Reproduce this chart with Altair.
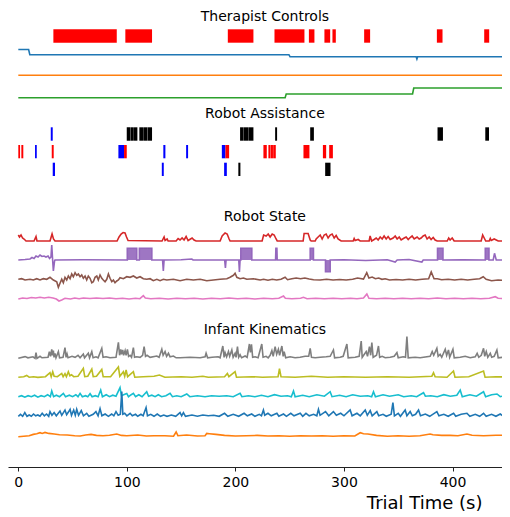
import altair as alt
import pandas as pd

X_DOMAIN = [-9.5, 445.6]
TICKS = [0, 100, 200, 300, 400]
RED, BLUE, BLACK = "#ff0000", "#0000ff", "#000000"

# ---------- section titles: (label, time-centre, level) ----------
SECTION_TITLES = [("Therapist Controls", 227.2, 21.0), ("Robot Assistance", 227.2, 118.3),
                  ("Robot State", 227.2, 220.7), ("Infant Kinematics", 227.2, 334.3)]

# ---------- event bars (start s, end s, colour) ----------
THERAPIST_EVENTS = [(32.3, 90.7), (98.6, 123.2), (193.0, 216.6), (236.0, 263.6), (267.7, 272.8),
                    (282.0, 287.3), (289.4, 292.5), (318.6, 324.1), (385.6, 390.8), (429.2, 433.8)]
ASSIST_A = [(29.9, 31.7, BLUE), (99.9, 103.1, BLACK), (103.3, 106.4, BLACK), (106.6, 109.7, BLACK),
            (111.5, 114.9, BLACK), (115.1, 118.9, BLACK), (119.1, 123.2, BLACK), (204.3, 207.6, BLACK),
            (207.8, 211.7, BLACK), (211.9, 216.6, BLACK), (236.6, 238.4, BLACK), (268.9, 272.3, BLACK),
            (386.2, 391.2, BLACK), (430.2, 433.6, BLACK)]
ASSIST_B = [(0.0, 1.6, RED), (2.8, 4.6, RED), (15.4, 17.0, BLUE), (30.8, 32.6, RED), (92.2, 97.4, BLUE),
            (97.4, 99.9, RED), (133.6, 135.5, BLUE), (154.6, 156.4, BLUE), (187.5, 190.8, BLUE),
            (190.8, 194.2, RED), (225.8, 228.9, RED), (230.4, 232.2, RED), (232.4, 234.6, RED),
            (234.8, 237.2, RED), (262.7, 268.2, RED), (280.6, 283.6, RED), (286.4, 289.8, RED)]
ASSIST_C = [(31.7, 33.8, BLUE), (132.2, 134.0, BLUE), (189.6, 192.1, BLUE), (202.7, 204.6, BLACK),
            (282.7, 287.6, BLACK)]
# vertical bands of the event rows (levels)
BAND_THER = (29.3, 42.7)
BAND_A = (127.3, 140.7)
BAND_B = (145.0, 158.3)
BAND_C = (162.7, 176.0)

# ---------- therapist control traces (time, value) ----------
THER_BLUE = [(0, 5.2), (9.5, 5.2), (10.6, 0), (249.3, 0), (250.3, -2), (366.5, -2), (367.2, -4.3),
             (367.9, -2), (453, -2)]
THER_ORANGE = [(0, 0), (453, 0)]
THER_GREEN = [(0, 0), (245.8, 0), (246.8, 3.7), (363.2, 3.7), (364.3, 9.7), (453, 9.7)]

# ---------- robot state traces ----------
STATE_RED = [(0, 6), (1.1, 4), (2.5, 6), (3.9, 3), (5.3, 2), (7.1, 0), (14.5, 0), (16.3, 4.5), (17.2, 0),
             (29.2, 0), (31.1, 7), (32.4, 2), (33.8, 0), (91, 0), (92.8, 4), (94.7, 7), (96.5, 8.5),
             (98.3, 8), (99.7, 4), (101.1, 0.5), (132.4, 0), (134.3, 4), (135.2, 0.5), (137.1, 2),
             (138, 0), (145.4, 0), (147.2, 2.5), (149, 1), (150.9, 3), (152.7, 1), (154.6, 4.5),
             (156.4, 0.5), (160.1, 3), (161.9, 1), (163.8, 0), (185.9, 0), (187.8, 5), (190.5, 8),
             (192.4, 7), (194.2, 2), (195.1, 0), (224.6, 0), (226, 6), (228.3, 5), (230.2, 7), (232, 4),
             (233.9, 7), (235.7, 6), (237.5, 2), (238.5, 0), (262.4, 0), (263.3, 7.5), (267, 7.5),
             (268.9, 1), (269.8, 0), (273.5, 0), (274.4, 2), (276.2, 4), (278.1, 6), (279.9, 2),
             (281.8, 6), (283.6, 7), (285.4, 3), (287.3, 6), (289.1, 7), (291, 3), (292.8, 5.5),
             (294.6, 2), (297.4, 0), (308.5, 0), (309.4, 2.5), (310.3, 0.5), (313.1, 1.5), (314.9, 0),
             (323.2, 0), (324.1, 5), (325.5, 0), (327.8, 1.5), (329.7, 3), (331.5, 1), (333.4, 4),
             (335.2, 2), (337, 5), (338.9, 2), (340.7, 4.5), (342.6, 1.5), (345.3, 3), (347.2, 5),
             (349, 2), (350.9, 4), (352.7, 1), (355.5, 3), (357.3, 4), (359.2, 1.5), (361, 3.5),
             (362.8, 5), (364.7, 2), (367.4, 4), (369.3, 2), (371.1, 3), (373, 5), (374.8, 6),
             (376.6, 2), (378.5, 4), (380.3, 1.5), (382.2, 3.5), (384, 1), (385.9, 0), (395.1, 0),
             (396.5, 3), (397.8, 1), (399.7, 3), (401.5, 0), (426.4, 0), (427.8, 6), (429.2, 3),
             (430.6, 0), (433.8, 0), (434.8, 2.5), (435.7, 0.5), (438.4, 2), (440.3, 1), (442.1, 0),
             (453, 0)]
STATE_PURPLE = [(0, 0), (6.2, 0.5), (10.8, 1), (12.6, 2.5), (14.5, 1.5), (16.3, 4), (18.2, 3), (20, 5),
                (21.8, 3.5), (23.7, 4), (25.5, 3), (27.4, 4), (28.8, 1.5), (30.1, 3), (30.8, 15), (31.5, 2),
                (32.3, -11), (33.4, -1), (33.8, 0), (60, 0.3), (100.4, 0), (100.4, 11.7), (109.1, 11.7),
                (109.1, 0), (111.5, 0), (111.5, 11.7), (123, 11.7), (123, 0), (132.9, 0), (133.6, -11),
                (134.3, 0), (150, 0.3), (159.8, 1), (161, 0), (190.1, 0), (190.8, -8), (191.4, 0),
                (203.1, 0), (203.7, -12), (204.3, 0), (205, 0), (205, 11.7), (215.1, 11.7), (215.1, 0),
                (237, 0), (237.3, 11.7), (238.2, 11.7), (238.5, 0), (268.9, 0), (268.9, 11.7),
                (271.9, 11.7), (271.9, 0), (283, 0), (283, -11.7), (287.3, -11.7), (287.3, 0),
                (300, 0.3), (320, -0.5), (340, 0.3), (347.2, -2), (349, 0), (360, 0.5), (371.8, -2),
                (373, 0), (386.2, 0), (386.2, 11.7), (391.2, 11.7), (391.2, 0), (410, 0.3), (430.2, 0),
                (430.2, 11.7), (433.6, 11.7), (433.6, 0), (437.5, 0), (438.7, 6.7), (440.3, 0), (453, 0)]
PURPLE_BLOCKS = [(100.4, 109.1, 11.7), (111.5, 123.0, 11.7), (205.0, 215.1, 11.7), (237.0, 238.4, 11.7),
                 (268.9, 271.9, 11.7), (283.0, 287.3, -11.7), (386.2, 391.2, 11.7), (430.2, 433.6, 11.7)]
STATE_BROWN = [(0, 0.7), (3.1, 1.3), (6.2, 0), (10.8, 0.7), (13.8, 0), (17, 1.3), (20, 0), (23, 1.3),
               (26.2, 0.7), (29.2, 2.7), (32.3, 0), (35.4, -1.7), (36.9, -7.3), (38.4, -3.3), (40, 0.7),
               (41.5, -2.7), (43, 2.7), (44.6, 0), (46.1, 4), (47.7, 1.3), (49.2, 6), (50.7, 3.3),
               (52.3, 7.3), (53.8, 4.7), (55.3, 6), (56.9, 3.3), (58.4, 5), (59.9, 1.7), (61.5, 4),
               (63, 0), (64.5, 4), (66.1, 1.7), (67.7, -2.7), (69.1, -1.7), (70.7, 2.7), (72.3, 4),
               (73.7, 0), (75.3, 5), (76.9, 1.7), (78.3, 0), (79.9, -1.7), (81.5, 0.7), (83, 6),
               (84.5, 1.7), (86.1, -1.7), (87.6, 0), (89.1, -2.7), (90.7, -1), (92.2, 0), (93.7, 2.3),
               (96.8, 1.3), (99.9, 3.3), (103, 2.7), (106, 4), (109.1, 2), (112.2, 3.3), (115.2, 1.3),
               (118.3, 0.7), (121.4, 1.3), (124.4, -0.7), (127.6, 0.7), (130.6, -0.7), (133.6, 0.7),
               (136.8, 0), (142.9, 0.7), (149, -0.7), (155.2, 0.7), (161.3, 0), (167.5, 0.7),
               (173.6, -0.7), (179.7, 0), (185.9, 0.7), (192.1, 1.3), (195.1, 2.7), (198.2, 4.7),
               (199.7, 6.7), (201.3, 2.7), (204.3, 1.3), (207.4, 2), (210.5, 0.7), (216.6, 1.3),
               (222.8, 0), (226, 0.7), (230, -0.3), (234, 0.7), (238, 0), (242, 0.7), (245.8, 2.7),
               (248, 0.3), (252, 1.3), (256, 2), (260, 1.3), (264, 2), (268, 1), (272, 0.3), (278, 0),
               (284, 0.7), (290, 0), (296, 0.5), (302, 0), (308, 0.7), (312.5, 2), (318, 1), (321, 7.3),
               (323, 2), (326, 3), (329, 1.3), (332, 2), (335, 0.7), (338, 1.3), (342, 0), (348, 0.5),
               (354, 0), (360, 0.7), (366, 0), (372, 0.7), (378, 1.3), (380.4, 8), (383, 1.3),
               (386, 1.3), (390, 0.3), (396, 0.7), (402, 0), (408, 0.7), (414, 0), (420, 0.7),
               (425, 1.3), (428.3, 3.3), (431, 0.7), (436, -0.7), (442, 0), (448, -0.3), (453, 0)]
STATE_PINK = [(0, 0), (4, 1), (8, 0.5), (12, 1.5), (16, 1), (20, 1.7), (24, 1), (28, 1.7), (32, 1),
              (35, 0), (37.5, -2), (40, -1), (43, 0.7), (48, 0), (52, 1), (56, 0.3), (60, 1), (66, 0.5),
              (72, 1), (78, 0.5), (84, 1), (90, 0.3), (96, 0.7), (102, 0), (108, 0.7), (112, 0.3),
              (115.2, 3.3), (117, 1), (122, 0.3), (130, 0.7), (138, 0), (146, 0.7), (154, 0.3),
              (162, 0.7), (170, 0), (178, 0.7), (186, 0.3), (194, 1), (202, 0.3), (210, 0.7), (218, 0),
              (226, 0.7), (234, 0.3), (240, 0.7), (244.3, 3), (246, 0.7), (252, 0.3), (260, 0.7),
              (262.7, 1.7), (266, 0.3), (274, 0.7), (282, 0.3), (290, 0.7), (298, 0.3), (306, 0.7),
              (312, 0.3), (318, 1), (321.1, 5), (323, 0.7), (330, 0.3), (338, 0.7), (346, 0.3),
              (354, 0.7), (362, 0.3), (370, 0.7), (378, 0.3), (386, 1), (394, 0.3), (402, 0.7),
              (410, 0.3), (418, 0.7), (426, 0.3), (434, 0.7), (439.4, 2.3), (442, 0.7), (448, 0.3),
              (453, 0.5)]

# ---------- infant kinematics traces ----------
INF_GREY = [(0, 0), (6.2, 1.7), (8.9, 0.5), (13.5, 1.5), (15.4, 0), (16.3, 5.7), (17.2, 0), (20, 2),
            (21.8, 0.5), (27.4, 1), (28.6, 6.7), (29.7, 2), (30.8, 9), (31.5, 3), (32.3, 7.7), (32.9, 1),
            (33.8, 5), (34.7, 0.5), (36.9, 6.7), (38, 0.5), (41.2, 1), (43, 10.7), (44, 1), (44.9, 4.3),
            (45.8, 0.5), (49.5, 2), (52.3, 1), (55, 3), (56.9, 0.5), (59.9, 4.3), (61, 0.5), (64.5, 5),
            (65.6, 0.5), (67.7, 6.7), (68.9, 0.5), (71.6, 1.5), (73.5, 0.5), (76.9, 10), (78.1, 1),
            (80.8, 1.5), (84.5, 0.5), (90, 1), (92.2, 16), (93.3, 3), (94.4, 9), (95.1, 4), (96.2, 8.3),
            (97, 3), (98.4, 7.7), (99.3, 3), (100.5, 9), (101.6, 2), (103, 3), (104.3, 1), (106, 10.7),
            (107.1, 1), (109.1, 1.5), (112.2, 1), (114.5, 3), (115.9, 11.7), (117.2, 2), (118.6, 3),
            (121.4, 1), (127.6, 2.3), (129.7, 1), (132.2, 9), (133.4, 3), (135.2, 6.7), (136.6, 2),
            (138.3, 5), (139.8, 1.5), (142.9, 2.3), (145.4, 0.5), (149, 0.5), (158.2, 1), (167.5, 0.5),
            (172.1, 1.5), (173, 5), (174.4, 0.5), (178.5, 1), (184.1, 1.5), (185.9, 0.5), (188.4, 12.3),
            (189.6, 1), (190.5, 5.7), (191.9, 1.5), (193.6, 6.7), (194.7, 2), (196.7, 8.3), (197.9, 1),
            (199.7, 5), (200.6, 1), (201.9, 11.7), (203, 1), (204.3, 3.5), (205.7, 0.5), (209, 2.3),
            (210.8, 1), (212.9, 14.3), (213.8, 6), (214.8, 14), (215.9, 1), (218.2, 1.5), (220.9, 0.5),
            (224.3, 14.3), (225.5, 1), (228.3, 2), (230.2, 0.5), (232, 3), (233.6, 7.7), (234.8, 2),
            (236.6, 11.7), (238, 4), (239.6, 9), (240.7, 3), (242.8, 12.3), (244, 2), (244.9, 6.7),
            (246.3, 0.5), (250.4, 1.5), (255, 0.5), (259.6, 1), (264.2, 2), (267.5, 2), (268.9, 10),
            (270.1, 1), (273.5, 0.5), (278.1, 1), (283.6, 1.5), (287.3, 2), (290.3, 8.3), (291.4, 0.5),
            (296.5, 1), (299.3, 2), (302.7, 14.3), (303.9, 0.5), (310.3, 1), (314, 2), (315.9, 17.3),
            (316.8, 1), (320.5, 6.7), (321.7, 2), (323.5, 11.7), (324.6, 3), (325.7, 15.7), (326.9, 1),
            (330, 3), (331.8, 12.3), (332.9, 1), (335.2, 2), (338, 0.5), (342.6, 1), (346.3, 2),
            (348.8, 5.7), (350, 0.5), (354.6, 1.5), (356.7, 1), (358, 21.7), (359.2, 0.5), (365.6, 1),
            (370.2, 0.5), (379.4, 2), (381.3, 6.7), (382.7, 3), (385.6, 10), (386.8, 2), (388.6, 4),
            (390.1, 1), (393.3, 9), (394.6, 3), (396.3, 8.3), (397.4, 1), (400.4, 9), (401.6, 0.5),
            (407.1, 1), (411.7, 2), (416.3, 0.5), (420.9, 1.5), (422.7, 5), (424.2, 1), (426.5, 3),
            (428.6, 10), (429.7, 2), (431.1, 6.7), (432.5, 1), (434.8, 5), (436.1, 1), (438.4, 2),
            (440.9, 8.3), (442.1, 0.5), (446.7, 1), (450.4, 0.5), (453, 0.5)]
INF_OLIVE = [(0, 0.5), (5, 1), (7.7, 2.3), (10, 0.5), (14, 1), (18, 0.3), (25, 1), (29.2, 5), (30.3, 1),
             (31.7, 6), (33, 1.5), (36, 1), (40, 4.3), (41.3, 1), (43, 4), (44.3, 1), (46.1, 6), (47.5, 2),
             (49, 3), (51, 1), (55, 1.5), (59.9, 9.3), (61.2, 1), (64, 1.5), (67.7, 8.7), (69, 1),
             (72, 1.5), (76.9, 8.3), (78.2, 1), (85, 1), (92.2, 10.7), (93.5, 1.5), (96.8, 6), (98, 1.5),
             (99.3, 7.7), (100.7, 1), (106, 6), (107.3, 0.5), (115, 1), (125, 1.5), (130, 2.7),
             (135, 0.5), (150, 1), (160, 0.5), (170, 1.5), (175, 0.5), (190, 1), (192.6, 4.3), (194, 1),
             (199.7, 6), (201, 0.5), (215, 1), (225, 0.5), (239.3, 1), (240.6, 9), (242, 1), (255, 0.5),
             (270, 1.5), (285, 0.5), (300, 1), (320, 0.5), (340, 1), (360, 0.5), (381, 1.5), (382.5, 5),
             (384, 1), (395, 0.5), (400.9, 6.7), (402.3, 0.5), (415, 1), (428.6, 6.7), (430, 0.5),
             (440, 1), (453, 0.5)]
INF_CYAN = [(0, 1), (3, 2), (6, 0.5), (9, 2), (12, 1), (15, 2.5), (18, 0.5), (21, 2), (24, 1), (27, 3),
            (29.5, 1), (30.8, 6.7), (32.5, 1), (35, 2.5), (38, 1), (41.5, 4.3), (43.5, 1), (47, 2.5),
            (50, 1), (53, 3), (55, 1), (56.9, 4.3), (59, 1), (62, 2), (64, 1), (66.1, 4), (68, 1),
            (71, 2), (73.5, 1), (75.9, 7.7), (77.5, 1), (81, 3), (84, 1), (87, 2.5), (90, 1.5),
            (93.7, 10), (95, 2), (97, 3), (99.9, 4.3), (101.5, 1), (104, 3), (106, 4.3), (108, 1),
            (111, 3), (114, 1), (118.3, 6), (120, 1.5), (123, 2.5), (126, 1), (129, 3), (132, 1),
            (136, 2), (139.8, 4.3), (142, 1), (146, 2), (150, 1), (155.2, 3.7), (158, 1), (165, 2),
            (172, 1), (178, 2), (185, 1.5), (192, 2), (198, 1), (204.3, 4.3), (206, 1), (212, 2),
            (218, 1), (224, 2.5), (230, 1), (236, 3), (242, 1.5), (248, 2), (251.5, 1), (253.5, 6.7),
            (255, 1), (262, 2.5), (268, 1), (275, 3), (282, 1.5), (287.3, 6), (289, 1), (296, 2.5),
            (302, 1), (308, 3), (315, 1.5), (322, 2), (325.5, 1), (327.2, 6), (329, 1), (336, 3),
            (342, 1.5), (350, 3), (355, 1), (362, 2), (367, 1), (373.3, 5), (375, 1.5), (380, 2),
            (386, 1), (392, 3), (398, 1.5), (404, 2.5), (407.1, 7.7), (409, 1), (416, 3), (422, 1.5),
            (428.6, 6), (430.5, 1), (436, 3), (441, 3.7), (444, 1), (448, 2), (453, 1)]
INF_BLUE = [(0, 1), (2, 3), (4, 1), (6, 4.7), (8, 1), (10, 2.3), (12, 1), (14, 3.3), (16, 1.5), (18, 2.3),
            (20, 1), (22, 4), (24, 1.5), (26, 3.3), (28, 1), (29.2, 5.7), (31, 2), (33, 4.7), (35, 1.5),
            (38.4, 6.3), (40, 2), (43, 7.3), (44.5, 2.5), (46, 5), (47.7, 8), (49, 2), (51, 7.3),
            (52.5, 2), (53.8, 8), (55.5, 2), (58, 6.7), (60, 1.5), (63, 4), (65, 1), (69, 3), (71.5, 5.7),
            (73.5, 1.5), (75.3, 8.7), (77, 1.5), (80, 3.3), (83, 1), (86, 3.3), (88, 1.5), (90, 5.7),
            (92, 2), (94, 3), (95.3, 25.7), (96.3, 3), (98, 4), (100, 1.5), (103, 4), (105, 1.5),
            (108, 3), (110, 1), (113, 3), (115, 1.5), (117.7, 9.7), (119, 1.5), (122, 3), (125, 1),
            (128, 3.3), (131, 1), (134, 2.3), (137, 1), (141, 2.3), (145, 1), (149, 4.7), (150.5, 1.5),
            (152.1, 4.7), (154, 1), (160, 2.3), (165, 1), (170, 2.3), (175, 1.5), (180, 2), (185, 1),
            (190, 4), (193, 1), (198, 3), (203, 1), (208, 4), (211, 1.5), (215, 3.3), (218, 1), (222, 3),
            (224, 1.5), (225.8, 7.3), (227, 2), (230, 4), (233, 1.5), (238.2, 4), (240, 1), (244.3, 3.3),
            (247, 1), (251, 4), (254, 1.5), (259.7, 4), (262, 1), (265, 4), (268, 1.5), (272, 3),
            (275, 1.5), (276.5, 8), (278, 2), (283, 5.7), (286, 1.5), (290.3, 5.7), (293, 2), (297, 4),
            (300, 1.5), (305.7, 7.3), (307.5, 1.5), (312, 4), (315, 1.5), (319.6, 7.3), (321.5, 2),
            (324.2, 6.7), (326, 1.5), (330.3, 5.7), (332, 1.5), (336, 3), (339, 1), (343.5, 3),
            (345.1, 14.7), (346.5, 1.5), (350, 4), (352, 1), (356.4, 7.3), (358, 1.5), (361, 5.7),
            (363, 1.5), (366, 3), (368.7, 7.3), (370.5, 1.5), (375, 3.3), (379, 1), (385.6, 5.7),
            (387.5, 1.5), (392, 3), (396, 1), (401, 4), (403, 1), (408, 3), (413.3, 4), (416, 1),
            (421, 3), (425, 1), (428.6, 4), (431, 1), (436, 3), (440, 1), (444, 3.3), (447, 1), (451, 2),
            (453, 1)]
INF_ORANGE = [(0, 0), (5, 0.5), (10, 1), (13.8, 2.3), (17, 3), (20, 4), (22, 3.3), (24.6, 4.3), (28, 3.3),
              (33, 2.7), (38, 2), (45, 1.7), (52, 1), (57, 0.7), (62, 1.7), (67, 2.3), (72, 1.3), (78, 1),
              (84, 1.5), (90.7, 2.7), (95, 1.3), (100, 1), (110, 1.7), (118, 0.7), (125, 1), (135, 1),
              (143, 0.5), (145.4, 4.7), (147, 1), (155, 1.7), (165, 0.7), (172, 1), (173.6, 3.3),
              (176, 3), (182, 2.3), (190, 1.3), (200, 0.7), (210, 1), (220, 1.3), (230, 0.7), (240, 1),
              (250, 0.5), (260, 1), (270, 0.7), (280, 1), (290, 0.5), (300, 1), (310, 0.7), (315, 4),
              (318, 3), (322, 2.7), (330, 1.3), (340, 0.5), (350, 1), (360, 0.5), (370, 1), (379.4, 2.7),
              (382, 2), (390, 1.3), (397.9, 1.3), (405, 1), (413.3, 2.7), (418, 1.5), (428.6, 1),
              (440, 1.5), (453, 1.3)]

# (name, colour, baseline level, points)
TRACES = [
    ("ther_blue", "#1f77b4", 54.7, THER_BLUE),
    ("ther_orange", "#ff7f0e", 75.3, THER_ORANGE),
    ("ther_green", "#2ca02c", 97.7, THER_GREEN),
    ("state_red", "#d62728", 241.0, STATE_RED),
    ("state_purple", "#9467bd", 260.0, STATE_PURPLE),
    ("state_brown", "#8c564b", 280.0, STATE_BROWN),
    ("state_pink", "#e377c2", 299.0, STATE_PINK),
    ("inf_grey", "#7f7f7f", 358.3, INF_GREY),
    ("inf_olive", "#bcbd22", 377.7, INF_OLIVE),
    ("inf_cyan", "#17becf", 397.7, INF_CYAN),
    ("inf_blue", "#1f77b4", 417.3, INF_BLUE),
    ("inf_orange", "#ff7f0e", 436.7, INF_ORANGE),
]

rows = []
for name, col, base, pts in TRACES:
    for i, (t, v) in enumerate(pts):
        rows.append({"series": name, "color": col, "t": t, "level": base - v, "i": i})
line_df = pd.DataFrame(rows)

bars = []
for t0, t1 in THERAPIST_EVENTS:
    bars.append({"t0": t0, "t1": t1, "top": BAND_THER[0], "bottom": BAND_THER[1], "color": RED})
for band, evs in ((BAND_A, ASSIST_A), (BAND_B, ASSIST_B), (BAND_C, ASSIST_C)):
    for t0, t1, c in evs:
        bars.append({"t0": t0, "t1": t1, "top": band[0], "bottom": band[1], "color": c})
bar_df = pd.DataFrame(bars)

fill_df = pd.DataFrame([{"t0": a, "t1": b, "top": 260.0 - h, "bottom": 260.0} for a, b, h in PURPLE_BLOCKS])
title_df = pd.DataFrame([{"label": s, "t": t, "level": lv} for s, t, lv in SECTION_TITLES])

FONT = "DejaVu Sans"
xscale = alt.Scale(domain=X_DOMAIN, nice=False, zero=False)
yscale = alt.Scale(domain=[467, 8], nice=False, zero=False)
xaxis = alt.Axis(values=TICKS, format="d", title="Trial Time (s)", grid=False, tickSize=4,
                 tickColor="#222222", domainColor="#222222", tickWidth=1, domainWidth=1,
                 labelFont=FONT, labelFontSize=14, labelColor="#000000", labelPadding=4,
                 titleFont=FONT, titleFontSize=18, titleFontWeight="normal", titleColor="#000000",
                 titleAlign="right", titleX=474, titleY=41, titleBaseline="alphabetic")

fills = alt.Chart(fill_df).mark_rect(color="#9467bd", opacity=0.9).encode(
    x=alt.X("t0:Q", scale=xscale, axis=xaxis), x2="t1:Q",
    y=alt.Y("top:Q", scale=yscale, axis=None), y2="bottom:Q")

rects = alt.Chart(bar_df).mark_rect().encode(
    x=alt.X("t0:Q", scale=xscale, axis=xaxis), x2="t1:Q",
    y=alt.Y("top:Q", scale=yscale, axis=None), y2="bottom:Q",
    color=alt.Color("color:N", scale=None))

lines = alt.Chart(line_df).mark_line(strokeWidth=1.6, clip=True).encode(
    x=alt.X("t:Q", scale=xscale, axis=xaxis),
    y=alt.Y("level:Q", scale=yscale, axis=None),
    color=alt.Color("color:N", scale=None),
    detail="series:N",
    order="i:Q")

titles = alt.Chart(title_df).mark_text(font=FONT, fontSize=14, baseline="alphabetic", align="center",
                                       color="#000000").encode(
    x=alt.X("t:Q", scale=xscale, axis=xaxis),
    y=alt.Y("level:Q", scale=yscale, axis=None),
    text="label:N")

chart = alt.layer(fills, rects, lines, titles).properties(
    width=494, height=459, padding={"left": 0, "top": 0, "right": 0, "bottom": 46},
    autosize=alt.AutoSizeParams(type="none")
).configure_view(stroke=None)

chart.save("out.html", embed_options={"renderer": "svg", "actions": False})
